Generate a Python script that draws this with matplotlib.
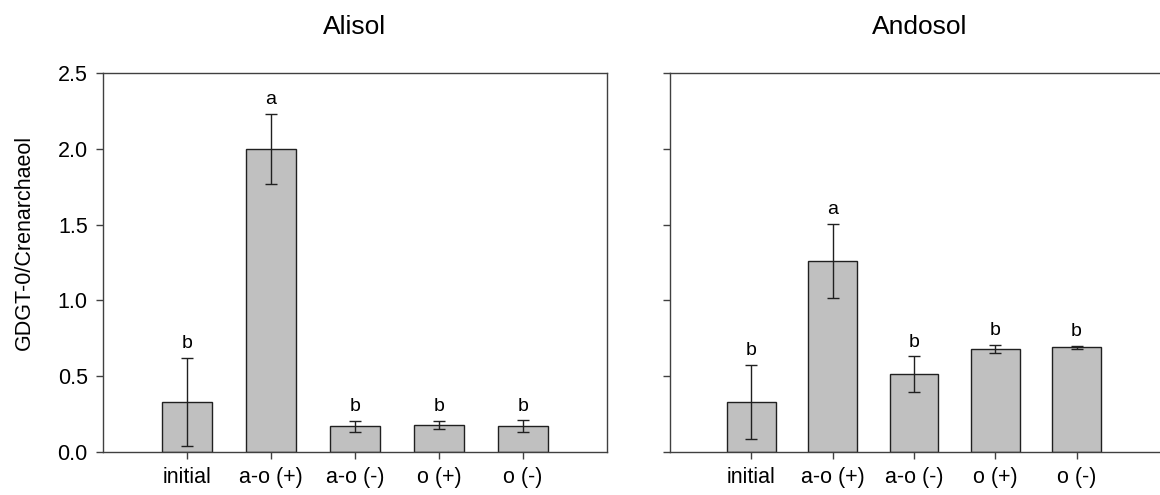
import numpy as np
import matplotlib
matplotlib.use("Agg")
import matplotlib.pyplot as plt

plt.rcParams["font.family"] = ["Liberation Sans", "DejaVu Sans"]

# ---------- data ----------
treatments = ["initial", "a-o (+)", "a-o (-)", "o (+)", "o (-)"]

alisol_mean = [0.33, 2.00, 0.17, 0.18, 0.17]
alisol_err = [0.29, 0.23, 0.037, 0.026, 0.04]
alisol_letters = ["b", "a", "b", "b", "b"]

andosol_mean = [0.33, 1.26, 0.515, 0.682, 0.691]
andosol_err = [0.244, 0.245, 0.117, 0.026, 0.009]
andosol_letters = ["b", "a", "b", "b", "b"]

W, H = 1160, 495
fig = plt.figure(figsize=(W / 100, H / 100), dpi=100)

bottom = 1 - 452 / H
height = (452 - 73) / H
ax1 = fig.add_axes([103 / W, bottom, (607 - 103) / W, height])
ax2 = fig.add_axes([670 / W, bottom, 500 / W, height])


def draw_panel(ax, means, errs, letters, title, xmax):
    x = np.arange(1, len(treatments) + 1)
    ax.bar(x, means, width=0.6, color="#c0c0c0", edgecolor="#202020",
           linewidth=1.0, zorder=2)
    ax.errorbar(x, means, yerr=errs, fmt="none", ecolor="#202020",
                elinewidth=1.0, capsize=4.5, capthick=1.0, zorder=3)
    for xi, m, e, lab in zip(x, means, errs, letters):
        ax.annotate(lab, (xi, m + e), xytext=(0, 4), textcoords="offset points",
                    ha="center", va="bottom", fontsize=14)
    ax.set_xlim(0, xmax)
    ax.set_ylim(0, 2.5)
    ax.set_yticks(np.arange(0, 2.51, 0.5))
    ax.set_xticks(x)
    ax.set_xticklabels(treatments)
    ax.tick_params(direction="out", length=5, width=1, color="#404040",
                   labelsize=15.5, pad=6)
    for s in ax.spines.values():
        s.set_color("#404040")
        s.set_linewidth(1.0)
    bb = ax.get_position()
    fig.text((bb.x0 + bb.x1) / 2, 1 - 27 / H, title, fontsize=19,
             ha="center", va="center")


draw_panel(ax1, alisol_mean, alisol_err, alisol_letters, "Alisol", 6)
draw_panel(ax2, andosol_mean, andosol_err, andosol_letters, "Andosol", 6.15)

ax1.set_yticklabels([f"{v:.1f}" for v in np.arange(0, 2.51, 0.5)])
ax2.set_yticklabels([])
fig.text(24 / W, 1 - 242 / H, "GDGT-0/Crenarchaeol", fontsize=15.5,
         rotation=90, ha="center", va="center")

fig.savefig("out.png", dpi=100)
